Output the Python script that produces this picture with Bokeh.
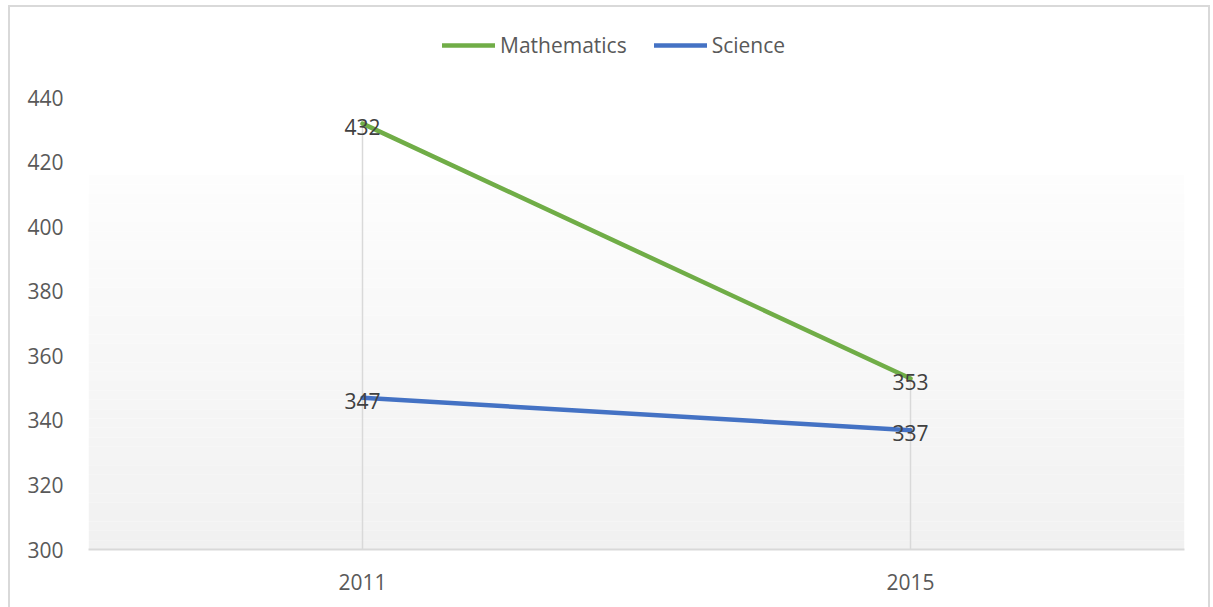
from bokeh.plotting import figure
from bokeh.models import Range1d, FixedTicker, Legend, LegendItem, BoxAnnotation
from bokeh.core.properties import value
from bokeh.embed import file_html
from bokeh.resources import INLINE

# Average scores by assessment year
years = ["2011", "2015"]
mathematics = [432, 353]
science = [347, 337]
y_ticks = [300, 320, 340, 360, 380, 400, 420, 440]

FONT = "Open Sans"
TEXT = "#595959"
LABEL = "#404040"
GRID = "#d9d9d9"
GREEN = "#70ad47"
BLUE = "#4472c4"

y_min = y_ticks[0]
y_top = 468          # headroom above the last tick for the legend
xs = [i + 0.5 for i in range(len(years))]

p = figure(width=1202, height=604, output_backend="svg", toolbar_location=None,
           x_range=Range1d(0, len(years)), y_range=Range1d(y_min, y_top),
           min_border_left=78, min_border_right=28, min_border_top=0,
           min_border_bottom=62,
           margin=(5, 0, 0, 8), styles={"border": "2px solid #d9d9d9"})
p.background_fill_color = "white"
p.border_fill_color = "white"
p.outline_line_color = None
p.xgrid.visible = False
p.ygrid.visible = False

# soft vertical gradient behind the lower part of the plot area
grad_top = 416
n_bands = 40
c_top, c_bot = (0xfd, 0xfd, 0xfd), (0xf1, 0xf1, 0xf1)
step = (grad_top - y_min) / n_bands
for i in range(n_bands):
    t = i / (n_bands - 1)
    rgb = tuple(round(c_top[k] + (c_bot[k] - c_top[k]) * t) for k in range(3))
    p.add_layout(BoxAnnotation(top=grad_top - i * step, bottom=grad_top - (i + 1) * step,
                               fill_color="#%02x%02x%02x" % rgb, fill_alpha=1,
                               line_alpha=0, level="underlay"))

# drop lines from the highest point of each year to the axis
tops = [max(m, s) for m, s in zip(mathematics, science)]
p.segment(x0=xs, y0=[y_min] * len(xs), x1=xs, y1=tops, line_color=GRID, line_width=1.5)

r_math = p.line(xs, mathematics, line_color=GREEN, line_width=4.5, line_cap="round")
r_sci = p.line(xs, science, line_color=BLUE, line_width=4.5, line_cap="round")

for vals in (mathematics, science):
    p.text(x=xs, y=vals, text=[str(v) for v in vals], text_align="center",
           text_baseline="middle", y_offset=3, text_font=value(FONT),
           text_font_size="21px", text_color=LABEL)

# axes
xa = p.xaxis[0]
xa.ticker = FixedTicker(ticks=xs)
xa.major_label_overrides = {x: y for x, y in zip(xs, years)}
xa.axis_line_color = GRID
xa.axis_line_width = 2
xa.major_tick_line_color = None
xa.minor_tick_line_color = None
xa.major_label_standoff = 18
xa.major_label_text_font = FONT
xa.major_label_text_font_size = "21px"
xa.major_label_text_color = TEXT

ya = p.yaxis[0]
ya.ticker = FixedTicker(ticks=y_ticks)
ya.axis_line_color = None
ya.major_tick_line_color = None
ya.minor_tick_line_color = None
ya.major_label_standoff = 19
ya.major_label_text_font = FONT
ya.major_label_text_font_size = "21px"
ya.major_label_text_color = TEXT

legend = Legend(items=[LegendItem(label="Mathematics", renderers=[r_math]),
                       LegendItem(label="Science", renderers=[r_sci])],
                orientation="horizontal", location=(354, 490),
                glyph_width=53, glyph_height=20, label_standoff=5, spacing=27,
                padding=0, margin=0, border_line_alpha=0, background_fill_alpha=0,
                label_text_font=FONT, label_text_font_size="21px",
                label_text_color=TEXT)
p.add_layout(legend, "center")

open("out.html", "w").write(file_html(p, INLINE))
